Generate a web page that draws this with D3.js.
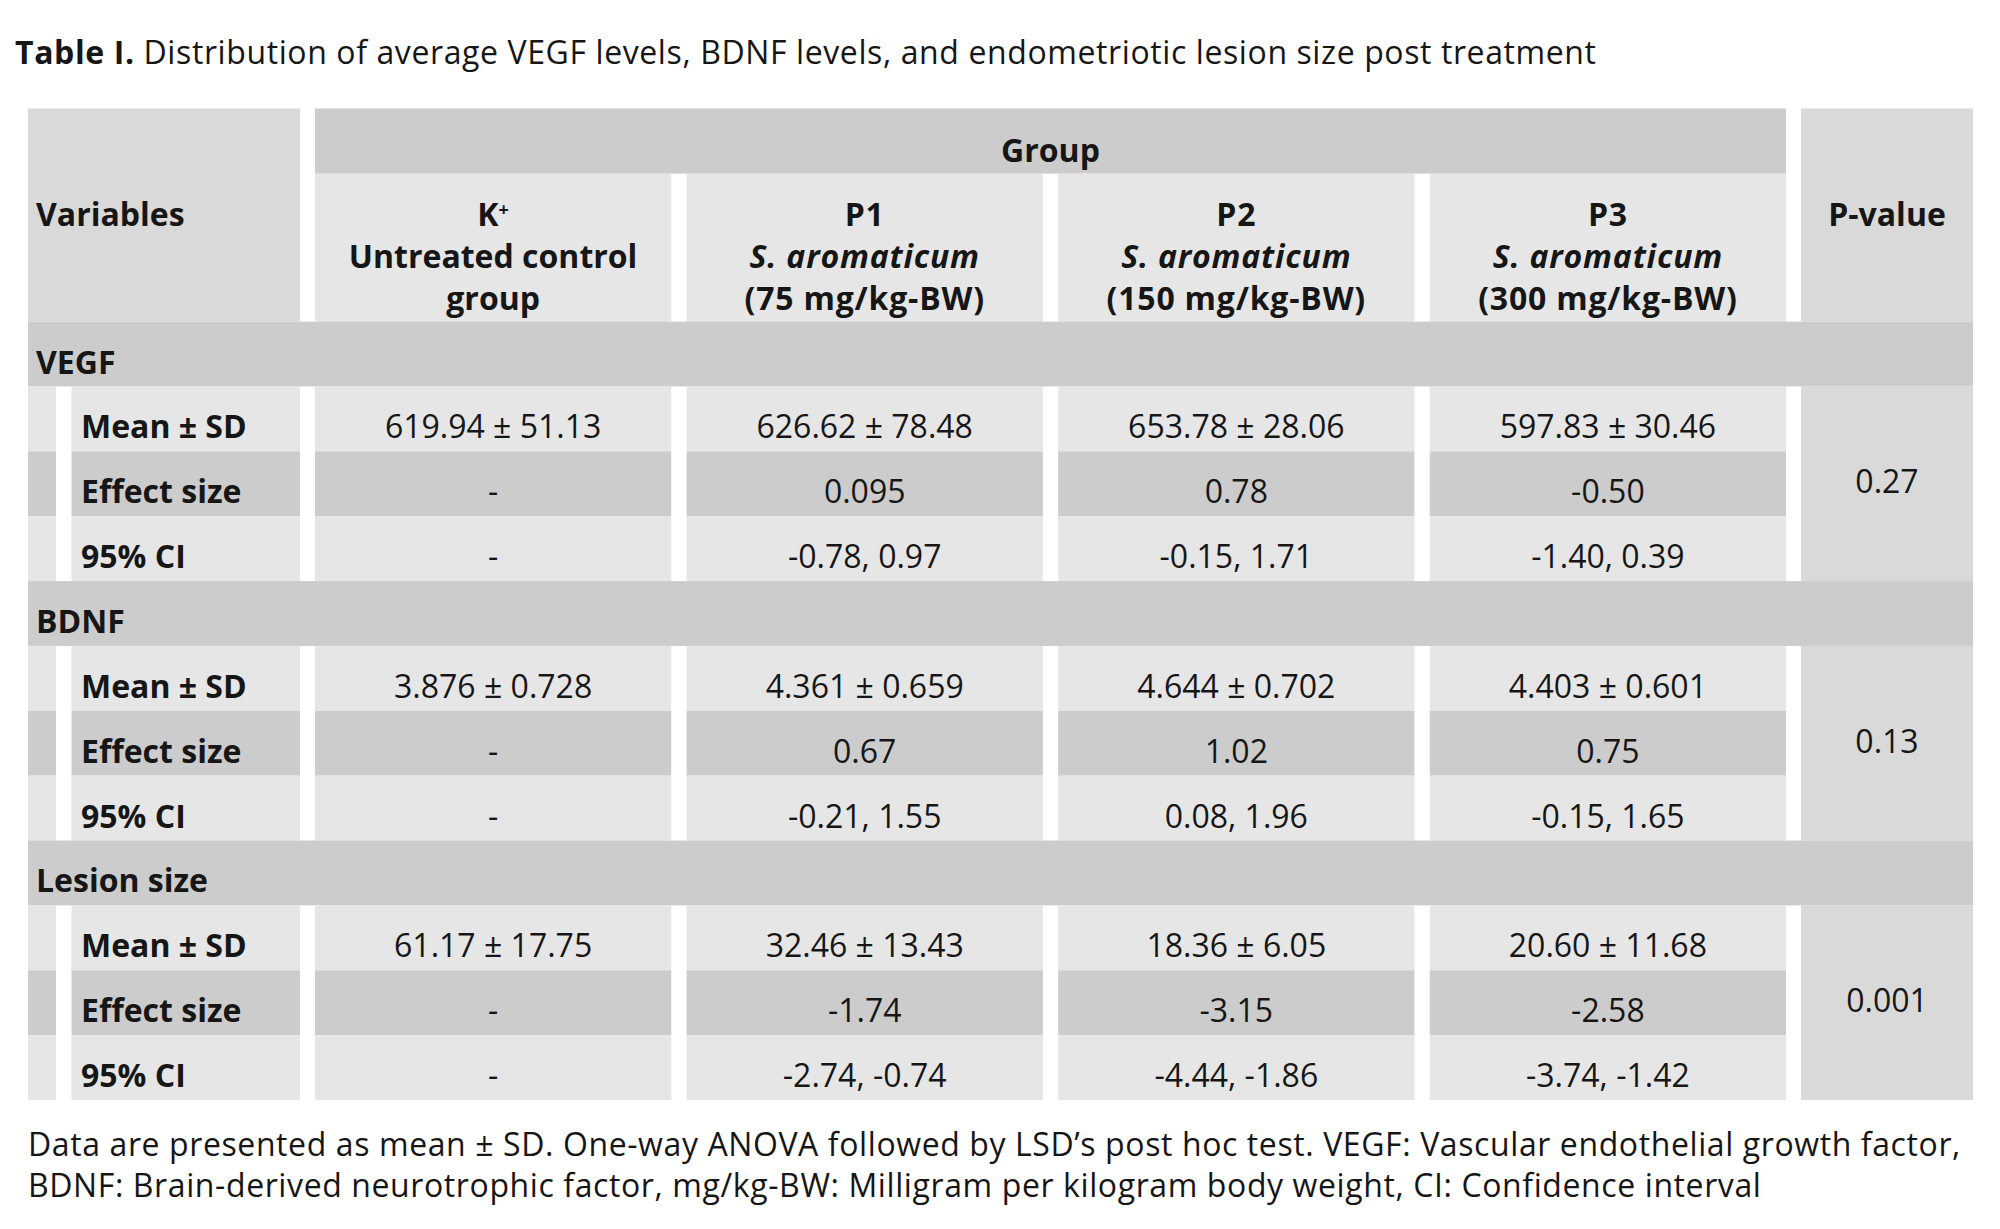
<!DOCTYPE html>
<html>
<head>
<meta charset="utf-8">
<script src="https://cdn.jsdelivr.net/npm/d3@7"></script>
<style>
  body { margin: 0; background: #fff; }
  svg text { font-family: "Open Sans", Lato, sans-serif; fill: #161616; }
</style>
</head>
<body>
<svg id="table" width="2000" height="1229"></svg>
<script>
const titleBold = "Table I.";
const titleRest = " Distribution of average VEGF levels, BDNF levels, and endometriotic lesion size post treatment";

const groups = ["K", "P1", "P2", "P3"];
const groupHeads = [
    ["K", "Untreated control", "group"],
    ["P1", "S. aromaticum", "(75 mg/kg-BW)"],
    ["P2", "S. aromaticum", "(150 mg/kg-BW)"],
    ["P3", "S. aromaticum", "(300 mg/kg-BW)"]
];

const sections = ["VEGF", "BDNF", "Lesion size"];
const statLabels = ["Mean \u00b1 SD", "Effect size", "95% CI"];

const vegfValues = [
    ["619.94 \u00b1 51.13", "626.62 \u00b1 78.48", "653.78 \u00b1 28.06", "597.83 \u00b1 30.46"],
    ["-", "0.095", "0.78", "-0.50"],
    ["-", "-0.78, 0.97", "-0.15, 1.71", "-1.40, 0.39"]
];
const bdnfValues = [
    ["3.876 \u00b1 0.728", "4.361 \u00b1 0.659", "4.644 \u00b1 0.702", "4.403 \u00b1 0.601"],
    ["-", "0.67", "1.02", "0.75"],
    ["-", "-0.21, 1.55", "0.08, 1.96", "-0.15, 1.65"]
];
const lesionValues = [
    ["61.17 \u00b1 17.75", "32.46 \u00b1 13.43", "18.36 \u00b1 6.05", "20.60 \u00b1 11.68"],
    ["-", "-1.74", "-3.15", "-2.58"],
    ["-", "-2.74, -0.74", "-4.44, -1.86", "-3.74, -1.42"]
];
const pValues = ["0.27", "0.13", "0.001"];

const footnote = [
    "Data are presented as mean \u00b1 SD. One-way ANOVA followed by LSD\u2019s post hoc test. VEGF: Vascular endothelial growth factor,",
    "BDNF: Brain-derived neurotrophic factor, mg/kg-BW: Milligram per kilogram body weight, CI: Confidence interval"
];

const sectionValues = [vegfValues, bdnfValues, lesionValues];

// ---- layout ----
var svg = d3.select("svg#table");
var light = "#e6e6e6", dark = "#cccccc", mid = "#d9d9d9";
var fs = 32;

var left = 28, right = 1973;
var varCol = [28, 300], stripCol = [28, 56], labelCol = [71.5, 300], pCol = [1801, 1973];
var headTop = 108.5, headMid = 173.6, headBottom = 321.6;
var textShift = 8;

// group columns
var x = d3.scaleBand()
    .domain(groups)
    .range([315, 1786])
    .paddingInner(0.0413);

// body rows: 3 sections x (header + 3 stats)
var y = d3.scaleLinear()
    .domain([0, 12])
    .range([headBottom, 1100]);

// title
var title = svg.append("text")
    .attr("x", 15)
    .attr("y", 64)
    .style("font-size", fs + "px")
    .style("letter-spacing", "0.6px");
title.append("tspan").style("font-weight", 700).text(titleBold);
title.append("tspan").text(titleRest);

// header cells
svg.append("rect").attr("x", varCol[0]).attr("y", headTop)
    .attr("width", varCol[1] - varCol[0]).attr("height", headBottom - headTop).attr("fill", mid);
svg.append("rect").attr("x", x("K")).attr("y", headTop)
    .attr("width", x("P3") + x.bandwidth() - x("K")).attr("height", headMid - headTop).attr("fill", dark);
svg.append("rect").attr("x", pCol[0]).attr("y", headTop)
    .attr("width", pCol[1] - pCol[0]).attr("height", headBottom - headTop).attr("fill", mid);

svg.selectAll("rect.sub")
    .data(groups)
    .enter().append("rect")
    .attr("class", "sub")
    .attr("x", (d) => x(d))
    .attr("y", headMid)
    .attr("width", x.bandwidth())
    .attr("height", headBottom - headMid)
    .attr("fill", light);

var bold = { "font-weight": 700, "font-size": fs + "px" };
function applyStyle(sel, st) { for (var k in st) sel.style(k, st[k]); return sel; }

applyStyle(svg.append("text"), bold).attr("x", 36).attr("y", 214).attr("dy", "0.36em").text("Variables");
applyStyle(svg.append("text"), bold).attr("x", (x("K") + x("P3") + x.bandwidth()) / 2).attr("y", 162)
    .attr("text-anchor", "middle").text("Group");
applyStyle(svg.append("text"), bold).attr("x", (pCol[0] + pCol[1]) / 2).attr("y", 214).attr("dy", "0.36em")
    .attr("text-anchor", "middle").text("P-value");

var lineY = [214, 256.5, 298.6];
groupHeads.forEach(function(lines, gi) {
    var cx = x(groups[gi]) + x.bandwidth() / 2;
    lines.forEach(function(line, li) {
        var t = applyStyle(svg.append("text"), bold)
            .attr("x", cx).attr("y", lineY[li]).attr("dy", "0.36em")
            .attr("text-anchor", "middle");
        if (li === 0 && gi === 0) {
            t.append("tspan").text(line);
            t.append("tspan").attr("dy", "-0.55em").style("font-size", "18px").text("+");
        } else {
            t.text(line);
            if (gi > 0) t.style("letter-spacing", "0.8px");
            if (li === 1 && gi > 0) t.style("font-style", "italic");
        }
    });
});

// body
sections.forEach(function(sec, si) {
    var r0 = si * 4;
    // section band
    svg.append("rect").attr("x", left).attr("y", y(r0))
        .attr("width", right - left).attr("height", y(r0 + 1) - y(r0)).attr("fill", dark);
    applyStyle(svg.append("text"), bold).attr("x", 36).attr("y", (y(r0) + y(r0 + 1)) / 2 + textShift)
        .attr("dy", "0.36em").text(sec);

    statLabels.forEach(function(lab, ri) {
        var r = r0 + 1 + ri;
        var fill = ri === 1 ? dark : light;
        var top = y(r), h = y(r + 1) - y(r), cy = top + h / 2 + textShift;
        svg.append("rect").attr("x", stripCol[0]).attr("y", top)
            .attr("width", stripCol[1] - stripCol[0]).attr("height", h).attr("fill", fill);
        svg.append("rect").attr("x", labelCol[0]).attr("y", top)
            .attr("width", labelCol[1] - labelCol[0]).attr("height", h).attr("fill", fill);
        applyStyle(svg.append("text"), bold).attr("x", 81).attr("y", cy).attr("dy", "0.36em").text(lab);

        var vals = sectionValues[si][ri];
        svg.selectAll(null)
            .data(groups)
            .enter().append("rect")
            .attr("x", (d) => x(d))
            .attr("y", top)
            .attr("width", x.bandwidth())
            .attr("height", h)
            .attr("fill", fill);
        svg.selectAll(null)
            .data(groups)
            .enter().append("text")
            .attr("x", (d) => x(d) + x.bandwidth() / 2)
            .attr("y", cy)
            .attr("dy", "0.36em")
            .attr("text-anchor", "middle")
            .style("font-size", fs + "px")
            .text((d, i) => vals[i]);
    });

    // merged p-value cell
    svg.append("rect").attr("x", pCol[0]).attr("y", y(r0 + 1))
        .attr("width", pCol[1] - pCol[0]).attr("height", y(r0 + 4) - y(r0 + 1)).attr("fill", mid);
    svg.append("text").attr("x", (pCol[0] + pCol[1]) / 2).attr("y", (y(r0 + 1) + y(r0 + 4)) / 2 - 2)
        .attr("dy", "0.36em").attr("text-anchor", "middle")
        .style("font-size", fs + "px").text(pValues[si]);
});

// footnote
svg.selectAll("text.foot")
    .data(footnote)
    .enter().append("text")
    .attr("class", "foot")
    .attr("x", 28)
    .attr("y", (d, i) => 1156 + i * 41)
    .style("font-size", fs + "px")
    .style("letter-spacing", "0.6px")
    .text((d) => d);
</script>
</body>
</html>
